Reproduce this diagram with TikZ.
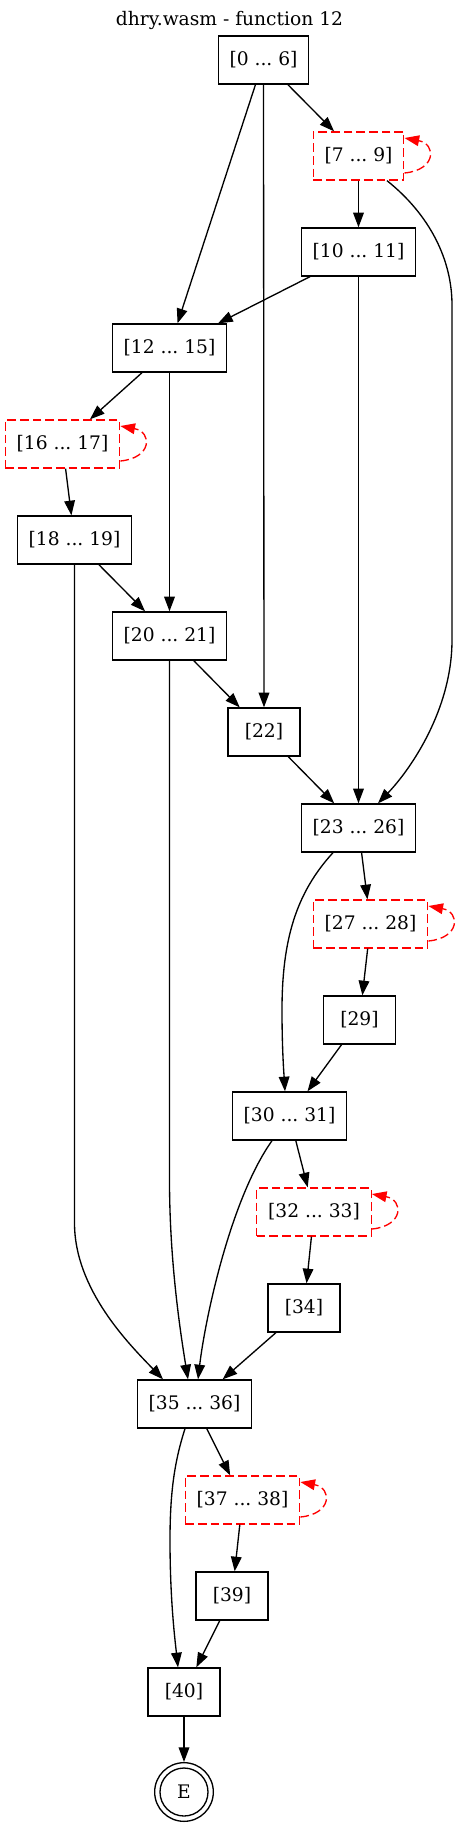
\documentclass[tikz,border=0pt]{standalone}
\usepackage{fontspec}
\setmainfont{DejaVu Serif}
\usetikzlibrary{arrows.meta,calc}
\frenchspacing
\begin{document}
\begin{tikzpicture}[x=0.75pt,y=-0.75pt,
  every node/.style={font=\fontsize{14}{16.8}\selectfont},
  blk/.style={draw=black,line width=1pt,rectangle,minimum width=54pt,minimum height=36pt,inner xsep=8.5pt,inner ysep=0pt},
  loopblk/.style={blk,draw=red,dash pattern=on 6.5pt off 3pt},
  edge/.style={draw=black,line width=1pt,-{Triangle[length=11pt,width=8pt]}},
  loopedge/.style={draw=red,line width=1pt,dash pattern=on 6.5pt off 3pt,-{Triangle[length=11pt,width=8pt,fill=red]}},
  endnode/.style={draw=black,line width=1pt,circle,minimum size=36pt,inner sep=0pt}
]
\useasboundingbox (0,0) rectangle (459,1828);
\node[anchor=base] (title) at (229.5,25.5) {dhry.wasm - function 12};
\node[blk] (n0) at (263.5,60) {[0 ... 6]};
\node[loopblk] (n7) at (358.5,156) {[7 ... 9]};
\node[blk] (n10) at (358.5,252) {[10 ... 11]};
\node[blk] (n12) at (169.5,348) {[12 ... 15]};
\node[loopblk] (n16) at (62.5,444) {[16 ... 17]};
\node[blk] (n18) at (74.5,540) {[18 ... 19]};
\node[blk] (n20) at (169.5,636) {[20 ... 21]};
\node[blk] (n22) at (264,732) {[22]};
\node[blk] (n23) at (358.5,828) {[23 ... 26]};
\node[loopblk] (n27) at (370.5,924) {[27 ... 28]};
\node[blk] (n29) at (359.5,1020) {[29]};
\node[blk] (n30) at (289.5,1116) {[30 ... 31]};
\node[loopblk] (n32) at (314,1212) {[32 ... 33]};
\node[blk] (n34) at (304,1308) {[34]};
\node[blk] (n35) at (194.5,1404) {[35 ... 36]};
\node[loopblk] (n37) at (242.5,1500) {[37 ... 38]};
\node[blk] (n39) at (232,1596) {[39]};
\node[blk] (n40) at (184,1692) {[40]};
\node[endnode] (E) at (184,1792) {E};
\node[endnode,minimum size=44pt] (Eo) at (E.center) {};
% straight edges
\draw[edge] (n0) -- (n7);
\draw[edge] (n0) -- (n12);
\draw[edge] (n0.south) -- (n22.north);
\draw[edge] (n7) -- (n10);
\draw[edge] (n10) -- (n12);
\draw[edge] (n10) -- (n23);
\draw[edge] (n12) -- (n16);
\draw[edge] (n12) -- (n20);
\draw[edge] (n16) -- (n18);
\draw[edge] (n18) -- (n20);
\draw[edge] (n20) -- (n22);
\draw[edge] (n22) -- (n23);
\draw[edge] (n23) -- (n27);
\draw[edge] (n27) -- (n29);
\draw[edge] (n29) -- (n30);
\draw[edge] (n30) -- (n32);
\draw[edge] (n32) -- (n34);
\draw[edge] (n34) -- (n35);
\draw[edge] (n35) -- (n37);
\draw[edge] (n37) -- (n39);
\draw[edge] (n39) -- (n40);
\draw[edge] (n40) -- (Eo);
% curved edges
\draw[edge] ($(n7.south)+(28.5,0)$) .. controls (430,215) and (452,260) .. (452,305) -- (452,640) .. controls (452,710) and (410,770) .. ($(n23.north)+(19.5,0)$);
\draw[edge] (n18.south) -- (74.5,1223) .. controls (74.5,1290) and (130,1345) .. ($(n35.north)+(-31.5,0)$);
\draw[edge] (n20.south) -- (169.5,1180) .. controls (169.5,1260) and (180,1330) .. ($(n35.north)+(-6.5,0)$);
\draw[edge] ($(n23.south)+(-25.5,0)$) .. controls (296,893) and (282,940) .. (282,1010) .. controls (282,1050) and (284,1075) .. ($(n30.north)+(-4.5,0)$);
\draw[edge] ($(n30.south)+(-17.5,0)$) .. controls (230,1200) and (205,1320) .. ($(n35.north)+(3.5,0)$);
\draw[edge] ($(n35.south)+(-9.5,0)$) .. controls (175,1460) and (170,1490) .. (170,1540) .. controls (170,1600) and (175,1640) .. ($(n40.north)+(-6,0)$);
% self loops
\draw[loopedge] ($(n7.east)+(0,17)$) .. controls +(32,-3) and +(32,6) .. ($(n7.east)+(0,-18)$);
\draw[loopedge] ($(n16.east)+(0,17)$) .. controls +(32,-3) and +(32,6) .. ($(n16.east)+(0,-18)$);
\draw[loopedge] ($(n27.east)+(0,17)$) .. controls +(32,-3) and +(32,6) .. ($(n27.east)+(0,-18)$);
\draw[loopedge] ($(n32.east)+(0,17)$) .. controls +(32,-3) and +(32,6) .. ($(n32.east)+(0,-18)$);
\draw[loopedge] ($(n37.east)+(0,17)$) .. controls +(32,-3) and +(32,6) .. ($(n37.east)+(0,-18)$);
\end{tikzpicture}
\end{document}
